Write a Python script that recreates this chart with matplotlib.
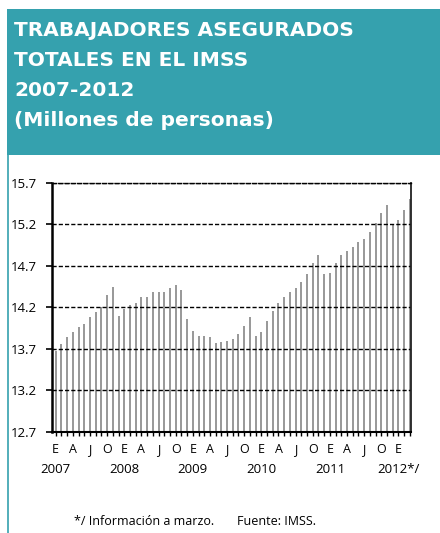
import numpy as np
import matplotlib
matplotlib.use("Agg")
import matplotlib.pyplot as plt
from matplotlib.patches import Rectangle
from matplotlib.lines import Line2D

plt.rcParams['font.family'] = ['Open Sans', 'DejaVu Sans']

# monthly insured workers, millions (Jan 2007 - Mar 2012)
values = [
    13.68, 13.76, 13.84, 13.90, 13.96, 14.00, 14.08, 14.14, 14.20, 14.35, 14.45, 14.10,  # 2007
    14.18, 14.23, 14.25, 14.33, 14.33, 14.39, 14.39, 14.39, 14.43, 14.47, 14.41, 14.06,  # 2008
    13.92, 13.86, 13.86, 13.84, 13.77, 13.79, 13.80, 13.82, 13.88, 13.98, 14.08, 13.86,  # 2009
    13.90, 14.04, 14.16, 14.25, 14.33, 14.39, 14.43, 14.51, 14.60, 14.74, 14.83, 14.60,  # 2010
    14.62, 14.74, 14.83, 14.88, 14.93, 14.99, 15.03, 15.11, 15.22, 15.34, 15.44, 15.20,  # 2011
    15.26, 15.38, 15.51,                                                                 # 2012
]
month_letters = ['E', '', '', 'A', '', '', 'J', '', '', 'O', '', '']
years = ['2007', '2008', '2009', '2010', '2011', '2012*/']
yticks = [12.7, 13.2, 13.7, 14.2, 14.7, 15.2, 15.7]

teal = '#35a1ae'
base = 12.7

fig = plt.figure(figsize=(4.4, 5.33), dpi=100)

# header box
fig.patches.append(Rectangle((7 / 440, 1 - 155 / 533), 1 - 7 / 440, 146 / 533,
                             transform=fig.transFigure, facecolor=teal,
                             edgecolor='none', zorder=0))
fig.lines.append(Line2D([7.5 / 440, 7.5 / 440], [0, 1 - 154 / 533],
                        transform=fig.transFigure, color=teal, lw=1.2))

title_lines = ['TRABAJADORES ASEGURADOS', 'TOTALES EN EL IMSS', '2007-2012',
               '(Millones de personas)']
for i, line in enumerate(title_lines):
    fig.text(14.5 / 440, 1 - (36 + 30 * i) / 533, line, color='white',
             family='DejaVu Sans', fontsize=14.5, fontweight='bold',
             va='baseline', ha='left')

ax = fig.add_axes([52 / 440, 101 / 533, 359 / 440, 249 / 533])
x = np.arange(len(values))
heights = np.array(values) - base
ax.bar(x, heights, bottom=base, width=0.35, color='#9a9a9a', zorder=1)

ax.set_ylim(12.7, 15.7)
ax.set_xlim(-0.65, len(values) - 0.8)
ax.set_yticks(yticks)
ax.set_yticklabels([f'{v:.1f}' for v in yticks])
ax.yaxis.grid(True, color='black', linestyle=(0, (3, 1.5)), lw=1.0)

# month letters as tick labels, years as a second row
ax.set_xticks(x)
ax.set_xticklabels([month_letters[i % 12] for i in range(len(values))], fontsize=9)
for i in range(0, len(values), 12):
    ax.text(i, -0.125, years[i // 12], transform=ax.get_xaxis_transform(),
            ha='center', va='top', fontsize=9.5)
ax.tick_params(axis='x', length=3, width=1, pad=5, color='black')
ax.tick_params(axis='y', length=4, width=1.2, labelsize=9.5, pad=7)

ax.spines['left'].set_linewidth(1.8)
ax.spines['bottom'].set_linewidth(1.5)
ax.spines['right'].set_linewidth(1.3)
ax.spines['right'].set_color('#222222')
ax.spines['top'].set_linestyle((0, (3, 1.5)))
ax.spines['top'].set_linewidth(1.0)

fig.text(74 / 440, 1 - 525 / 533, '*/ Información a marzo.', fontsize=9,
         va='baseline', ha='left')
fig.text(237 / 440, 1 - 525 / 533, 'Fuente: IMSS.', fontsize=9,
         va='baseline', ha='left')

fig.savefig('out.png', dpi=100)
